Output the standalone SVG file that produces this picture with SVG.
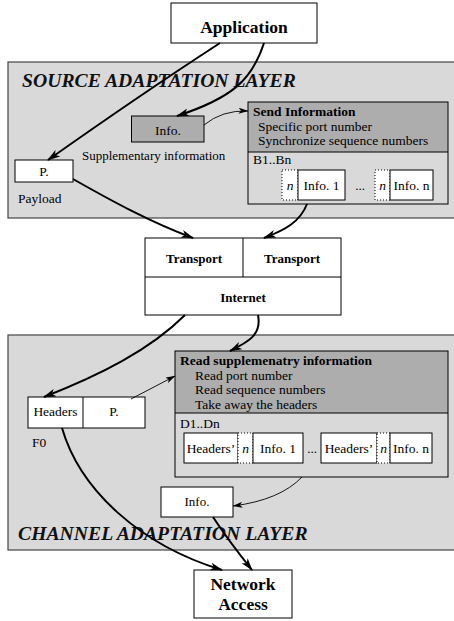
<svg xmlns="http://www.w3.org/2000/svg" width="454" height="621" viewBox="0 0 454 621">
<defs>
<marker id="ah" viewBox="0 0 13 8" refX="12" refY="4" markerWidth="13" markerHeight="8" markerUnits="userSpaceOnUse" orient="auto">
<path d="M0,0 L13,4 L0,8 L3.5,4 z" fill="#000"/>
</marker>
<marker id="ahs" viewBox="0 0 10 6" refX="9.5" refY="3" markerWidth="10" markerHeight="6" markerUnits="userSpaceOnUse" orient="auto">
<path d="M0,0 L10,3 L0,6 L2.5,3 z" fill="#000"/>
</marker>
<style>
text{font-family:"Liberation Serif","Times New Roman",serif;fill:#000}
.b{font-weight:bold}
.c{text-anchor:middle}
.layer{font-weight:bold;font-style:italic;font-size:19.7px;fill:#111}
.t{font-size:13.5px}
.s{font-size:13px}
.panel{fill:#d9d9d9;stroke:#444;stroke-width:1.2}
.box{fill:#fff;stroke:#000;stroke-width:1}
.dark{fill:#adadad}
.light{fill:#d9d9d9}
.dot{fill:#fff;stroke:#000;stroke-width:1;stroke-dasharray:1 2}
.thick{fill:none;stroke:#000;stroke-width:2;marker-end:url(#ah)}
.thin{fill:none;stroke:#000;stroke-width:0.9;marker-end:url(#ahs)}
</style>
</defs>

<g id="source-layer">
<rect class="panel" x="8" y="62" width="460" height="156"/>
<text class="layer" x="22" y="87">SOURCE ADAPTATION LAYER</text>
</g>

<g id="channel-layer">
<rect class="panel" x="8" y="335" width="460" height="215"/>
<text class="layer" x="18" y="540">CHANNEL ADAPTATION LAYER</text>
</g>

<g id="application">
<rect class="box" x="171" y="3" width="146" height="40"/>
<text class="b c" x="244" y="33" style="font-size:17.5px">Application</text>
</g>

<g id="info-src">
<rect x="131.5" y="116" width="72.5" height="26" fill="#adadad" stroke="#000" stroke-width="1"/>
<text class="t c" x="168" y="135">Info.</text>
<text class="s" x="82" y="160">Supplementary information</text>
</g>

<g id="payload">
<rect class="box" x="15" y="160" width="58" height="22"/>
<text class="t c" x="44" y="176">P.</text>
<text class="t" x="18" y="203">Payload</text>
</g>

<g id="send-info">
<rect class="light" x="248" y="102" width="200" height="102"/>
<rect class="dark" x="248" y="102" width="200" height="50"/>
<rect x="248" y="102" width="200" height="102" fill="none" stroke="#000" stroke-width="1"/>
<line x1="248" y1="152" x2="448" y2="152" stroke="#000" stroke-width="1"/>
<text class="t b" x="253" y="116">Send Information</text>
<text class="t" x="258" y="130.5">Specific port number</text>
<text class="t" x="258" y="145">Synchronize sequence numbers</text>
<text class="t" x="253" y="164">B1..Bn</text>
<rect class="dot" x="282" y="170" width="16" height="30"/>
<rect class="box" x="298" y="170" width="47" height="30"/>
<text class="t c" x="290" y="190" font-style="italic">n</text>
<text class="t c" x="321.5" y="190">Info. 1</text>
<text class="s c" x="360" y="190">...</text>
<rect class="dot" x="375" y="170" width="15" height="30"/>
<rect class="box" x="390" y="170" width="43" height="30"/>
<text class="t c" x="382.5" y="190" font-style="italic">n</text>
<text class="t c" x="411.5" y="190">Info. n</text>
</g>

<g id="transport-internet">
<rect class="box" x="145" y="238" width="196" height="77"/>
<line x1="145" y1="277" x2="341" y2="277" stroke="#000"/>
<line x1="243" y1="238" x2="243" y2="277" stroke="#000"/>
<text class="b c" x="194" y="263" style="font-size:13px">Transport</text>
<text class="b c" x="292" y="263" style="font-size:13px">Transport</text>
<text class="b c" x="243" y="302" style="font-size:13px">Internet</text>
</g>

<g id="headers-p">
<rect class="box" x="28" y="397" width="117" height="31"/>
<line x1="83" y1="397" x2="83" y2="428" stroke="#000"/>
<text class="t c" x="55.5" y="416">Headers</text>
<text class="t c" x="114" y="416">P.</text>
<text class="t" x="32" y="447">F0</text>
</g>

<g id="read-info">
<rect class="light" x="175" y="351" width="273" height="126"/>
<rect class="dark" x="175" y="351" width="273" height="62"/>
<rect x="175" y="351" width="273" height="126" fill="none" stroke="#000" stroke-width="1"/>
<line x1="175" y1="413" x2="448" y2="413" stroke="#000" stroke-width="1"/>
<text class="t b" x="180" y="365">Read supplemenatry information</text>
<text class="t" x="195" y="379.5">Read port number</text>
<text class="t" x="195" y="394">Read sequence numbers</text>
<text class="t" x="195" y="408.5">Take away the headers</text>
<text class="t" x="180" y="428">D1..Dn</text>
<rect class="box" x="184" y="433" width="54" height="30"/>
<rect class="dot" x="238" y="433" width="15" height="30"/>
<rect class="box" x="253" y="433" width="50" height="30"/>
<text class="t c" x="211" y="453">Headers’</text>
<text class="t c" x="245.5" y="453" font-style="italic">n</text>
<text class="t c" x="278" y="453">Info. 1</text>
<text class="s c" x="312" y="453">...</text>
<rect class="box" x="321" y="433" width="56" height="30"/>
<rect class="dot" x="377" y="433" width="13" height="30"/>
<rect class="box" x="390" y="433" width="42" height="30"/>
<text class="t c" x="349" y="453">Headers’</text>
<text class="t c" x="383.5" y="453" font-style="italic">n</text>
<text class="t c" x="411" y="453">Info. n</text>
</g>

<g id="info-chan">
<rect class="box" x="161" y="487" width="72" height="30"/>
<text class="s c" x="197" y="506">Info.</text>
</g>

<g id="network-access">
<rect class="box" x="194" y="570" width="98" height="48"/>
<text class="b c" x="243" y="590" style="font-size:17.5px">Network</text>
<text class="b c" x="243" y="610" style="font-size:17.5px">Access</text>
</g>

<g id="connectors">
<path class="thick" d="M220,43 Q140,95 48,160"/>
<path class="thick" d="M264,43 C252,80 232,98 177,116"/>
<path class="thin" d="M204,125 Q222,110 248,111"/>
<path class="thick" d="M73,179 C110,200 150,222 193,238"/>
<path class="thick" d="M307,204 C300,222 285,230 264,238"/>
<path class="thick" d="M185,315 C150,350 100,375 44,397"/>
<path class="thick" d="M258,315 C262,335 248,342 230,351"/>
<path class="thin" d="M131,399 L175,376"/>
<path class="thin" d="M302,477 Q280,500 233,506"/>
<path class="thick" d="M62,428 C80,490 140,545 222,570"/>
<path class="thick" d="M213,517 Q228,540 252,570"/>
</g>
</svg>
